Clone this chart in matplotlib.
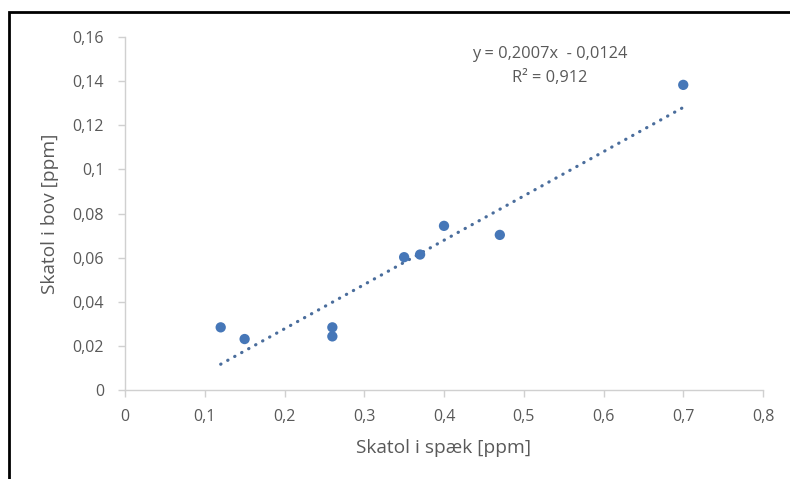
import matplotlib
matplotlib.use("Agg")
import matplotlib.pyplot as plt
from matplotlib.ticker import FuncFormatter, MultipleLocator
from matplotlib.patches import Rectangle

# Data
spaek = [0.12, 0.15, 0.26, 0.26, 0.35, 0.37, 0.40, 0.47, 0.70]
bov = [0.0284, 0.0231, 0.0284, 0.0243, 0.0602, 0.0614, 0.0744, 0.0703, 0.1383]
slope = 0.2007
intercept = -0.0124
r2 = 0.912

plt.rcParams['font.family'] = ['Open Sans', 'DejaVu Sans']

fig = plt.figure(figsize=(7.9, 4.79), dpi=100)
ax = fig.add_axes([125 / 790, 89 / 479, 638 / 790, 353 / 479])

# frame round the chart
fig.patches.append(Rectangle((9 / 790, -0.05), 1.0, (479 - 12) / 479 + 0.05,
                             transform=fig.transFigure, fill=False,
                             edgecolor='black', linewidth=2.0))

dot_col = '#4677b8'
ax.scatter(spaek, bov, s=55, color=dot_col, zorder=3, edgecolors='none')

x0, x1 = min(spaek), max(spaek)
ax.plot([x0, x1], [slope * x0 + intercept, slope * x1 + intercept],
        linestyle=(0, (0.1, 2.4)), linewidth=2.3, color='#4a6d9c',
        dash_capstyle='round', zorder=2)

ax.text(0.533, 0.1523, 'y = 0,2007x  - 0,0124', ha='center', va='center',
        fontsize=11.8, color='#595959')
ax.text(0.533, 0.1412, f'R² = {r2:g}'.replace('.', ','), ha='center', va='center',
        fontsize=11.8, color='#595959')

ax.set_xlim(0, 0.8)
ax.set_ylim(0, 0.16)
ax.xaxis.set_major_locator(MultipleLocator(0.1))
ax.yaxis.set_major_locator(MultipleLocator(0.02))
fmt = FuncFormatter(lambda v, p: f'{round(v, 4):g}'.replace('.', ','))
ax.xaxis.set_major_formatter(fmt)
ax.yaxis.set_major_formatter(fmt)

for s in ['top', 'right']:
    ax.spines[s].set_visible(False)
for s in ['left', 'bottom']:
    ax.spines[s].set_color('#d0d0d0')
    ax.spines[s].set_linewidth(1.0)
ax.tick_params(colors='#d0d0d0', labelcolor='#595959', labelsize=11.5,
               length=5, width=1.0, direction='out')
ax.tick_params(axis='x', pad=9)
ax.tick_params(axis='y', pad=10)

ax.set_xlabel('Skatol i spæk [ppm]', fontsize=13.8, color='#595959', labelpad=10)
ax.set_ylabel('Skatol i bov [ppm]', fontsize=13.8, color='#595959', labelpad=10)

fig.savefig('out.png', dpi=100)
